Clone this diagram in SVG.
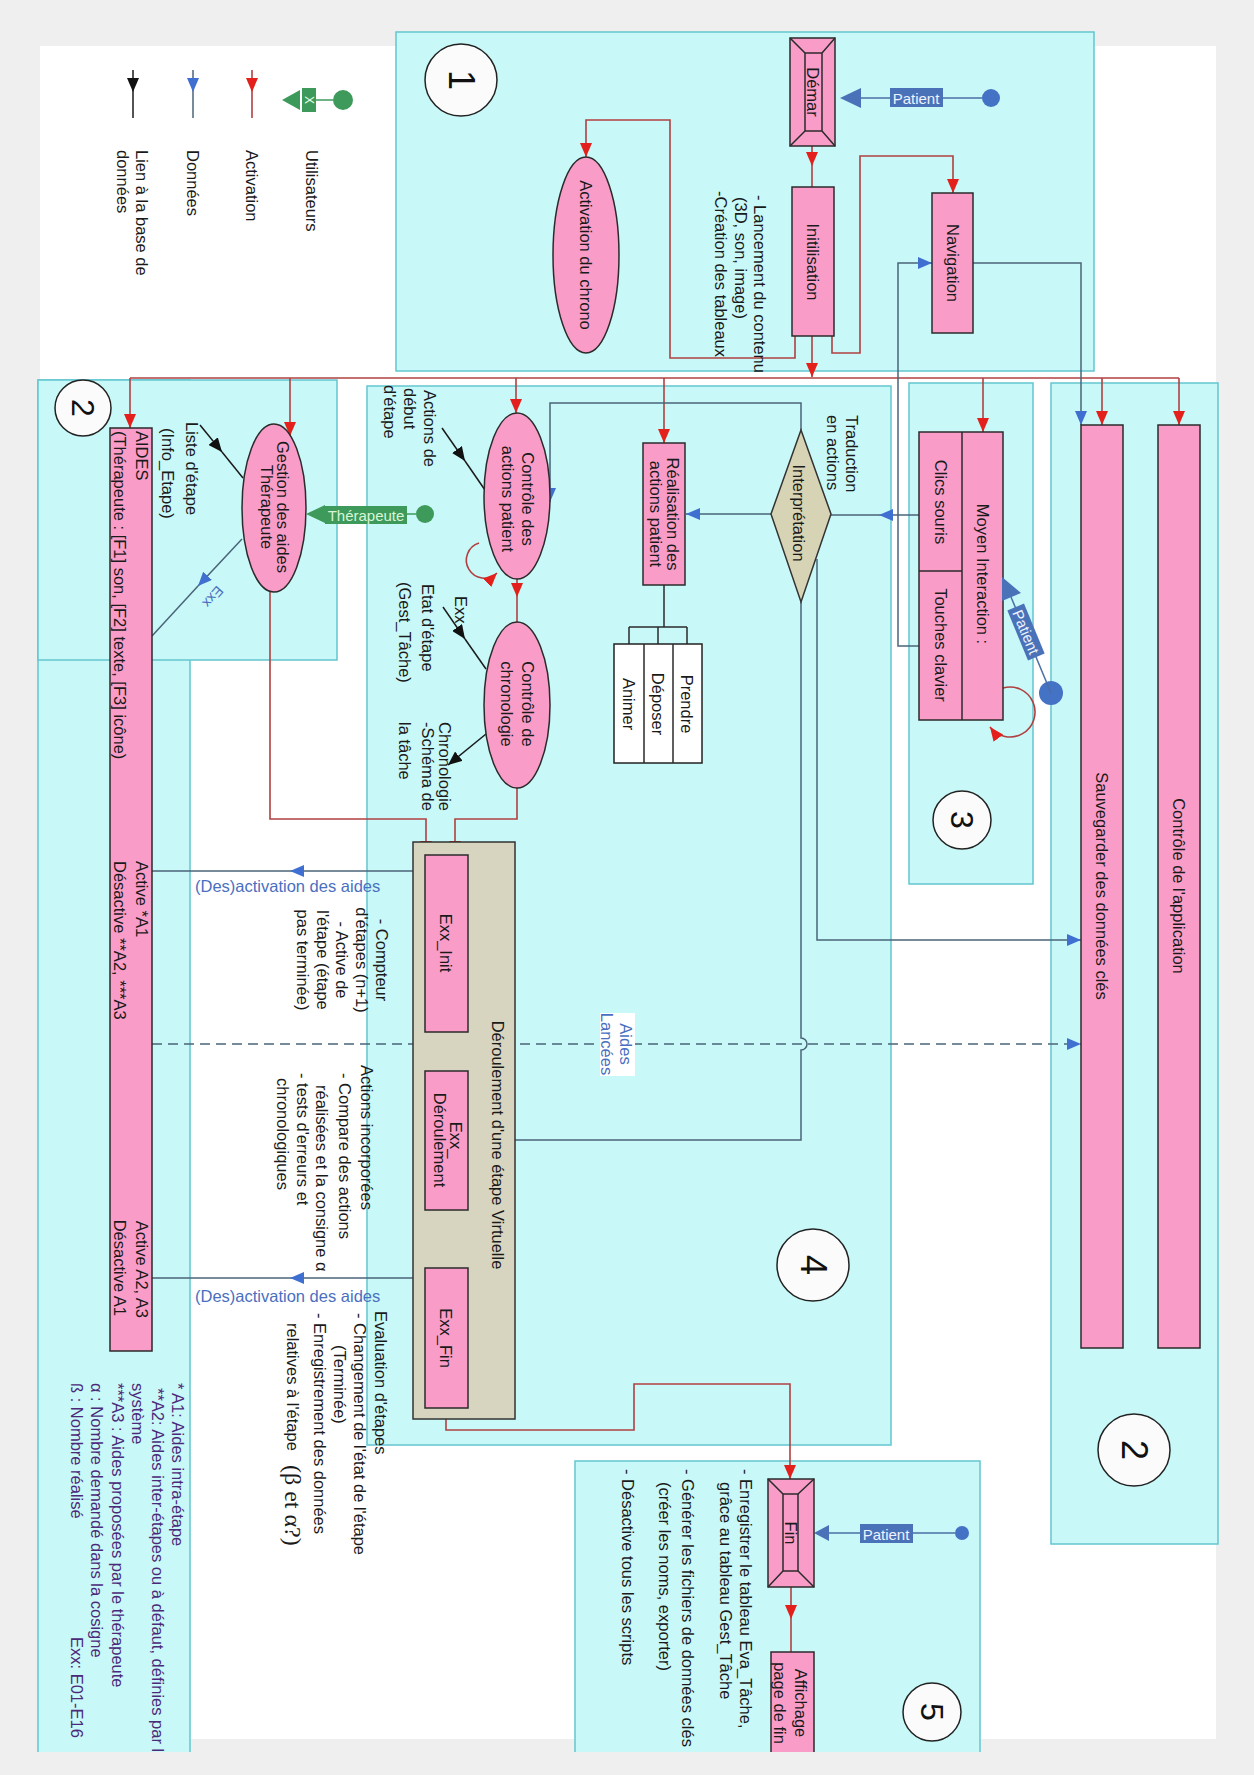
<svg xmlns="http://www.w3.org/2000/svg" width="1254" height="1775" viewBox="0 0 1254 1775">
<style>
.t{font-family:"Liberation Sans",Arial,sans-serif;font-size:16.5px;fill:#1a1a1a;dominant-baseline:central}
.m{text-anchor:middle}
.e{text-anchor:end}
.bl{fill:#4a6fc0}
.pu{fill:#4b2a7a}
.wt{fill:#eef3ff}
.reg{fill:#c9f8f8;stroke:#63c6cf;stroke-width:1.5}
.pk{fill:#f99dc8;stroke:#2b2b2b;stroke-width:1.5}
.kh{fill:#d7d4bf;stroke:#333;stroke-width:1.5}
.wb{fill:#fff;stroke:#222;stroke-width:1.5}
.nc{fill:#fbfbfb;stroke:#222;stroke-width:1.5}
.num{font-family:"Liberation Sans",Arial,sans-serif;font-size:36px;fill:#111;text-anchor:middle;dominant-baseline:central}
.cr{fill:none;stroke:#b04040;stroke-width:1.6}
.cb{fill:none;stroke:#4a6478;stroke-width:1.5}
.ck{fill:none;stroke:#1a1a1a;stroke-width:1.5}
.dash{stroke-dasharray:10 6}
.ln{stroke:#2b2b2b;stroke-width:1.5;fill:none}
</style>
<defs>
<marker id="aR" viewBox="0 0 14 12" refX="14" refY="6" markerWidth="14" markerHeight="12" markerUnits="userSpaceOnUse" orient="auto"><path d="M0,0 L14,6 L0,12 z" fill="#e3201b"/></marker>
<marker id="aB" viewBox="0 0 14 12" refX="14" refY="6" markerWidth="14" markerHeight="12" markerUnits="userSpaceOnUse" orient="auto"><path d="M0,0 L14,6 L0,12 z" fill="#3e6fd1"/></marker>
<marker id="aK" viewBox="0 0 14 12" refX="14" refY="6" markerWidth="14" markerHeight="12" markerUnits="userSpaceOnUse" orient="auto"><path d="M0,0 L14,6 L0,12 z" fill="#111"/></marker>
</defs>

<rect width="1254" height="1775" fill="#efefef"/>
<rect x="40" y="46" width="1176" height="1693" fill="#ffffff"/>

<g id="regions">
<rect class="reg" x="396" y="32" width="698" height="339"/>
<path class="reg" d="M38,1752 V380 H190 V1752"/>
<rect class="reg" x="38" y="380" width="299" height="280"/>
<rect class="reg" x="367" y="386" width="524" height="1059"/>
<rect class="reg" x="909" y="383" width="124" height="501"/>
<rect class="reg" x="1051" y="383" width="167" height="1161"/>
<path class="reg" d="M575,1752 V1461 H980 V1752"/>
</g>

<g id="numbers">
<circle class="nc" cx="461" cy="80" r="36"/><text class="num" transform="translate(461,80) rotate(90)">1</text>
<circle class="nc" cx="83" cy="408" r="28"/><text class="num" style="font-size:32px" transform="translate(83,408) rotate(90)">2</text>
<circle class="nc" cx="1134" cy="1450" r="36"/><text class="num" transform="translate(1134,1450) rotate(90)">2</text>
<circle class="nc" cx="962" cy="820" r="29"/><text class="num" style="font-size:32px" transform="translate(962,820) rotate(90)">3</text>
<circle class="nc" cx="813" cy="1265" r="36"/><text class="num" transform="translate(813,1265) rotate(90)">4</text>
<circle class="nc" cx="932" cy="1712" r="29"/><text class="num" style="font-size:32px" transform="translate(932,1712) rotate(90)">5</text>
</g>

<g id="legend">
<path d="M282,100 L300,90 L300,110 z" fill="#3d9a5a"/>
<rect x="302" y="88" width="14" height="24" fill="#3d9a5a"/>
<text class="t m" style="font-size:12px;fill:#e8ffe8" transform="translate(309,100) rotate(90)">X</text>
<line x1="316" y1="100" x2="333" y2="100" stroke="#3d9a5a" stroke-width="1.5"/>
<circle cx="343" cy="100" r="10" fill="#3d9a5a"/>
<path class="cr" d="M252,70 V92" marker-end="url(#aR)"/><path class="cr" d="M252,92 V118"/>
<path class="cb" d="M193,70 V92" marker-end="url(#aB)"/><path class="cb" d="M193,92 V118"/>
<path class="ck" d="M133,70 V92" marker-end="url(#aK)"/><path class="ck" d="M133,92 V118"/>
<text class="t" transform="translate(312,150) rotate(90)">Utilisateurs</text>
<text class="t" transform="translate(252,150) rotate(90)">Activation</text>
<text class="t" transform="translate(193,150) rotate(90)">Données</text>
<text class="t" transform="translate(142,150) rotate(90)"><tspan x="0" y="0">Lien à la base de</tspan><tspan x="0" y="19.5">données</tspan></text>
</g>

<g id="connectors">
<!-- activation (red) -->
<path class="cr" d="M812,146 V166" marker-end="url(#aR)"/><path class="cr" d="M812,166 V187"/>
<path class="cr" d="M795,336 V358 H670 V120 H586 V157" marker-end="url(#aR)"/>
<path class="cr" d="M832,336 V353 H860 V156 H953 V193" marker-end="url(#aR)"/>
<path class="cr" d="M812,336 V377" marker-end="url(#aR)"/>
<path class="cr" d="M130,378 H1179"/>
<path class="cr" d="M130,378 V428" marker-end="url(#aR)"/>
<path class="cr" d="M290,378 V436" marker-end="url(#aR)"/>
<path class="cr" d="M516,378 V413" marker-end="url(#aR)"/>
<path class="cr" d="M664,378 V443" marker-end="url(#aR)"/>
<path class="cr" d="M983,378 V432" marker-end="url(#aR)"/>
<path class="cr" d="M1102,378 V425" marker-end="url(#aR)"/>
<path class="cr" d="M1179,378 V425" marker-end="url(#aR)"/>
<path class="cr" d="M517,579 V597" marker-end="url(#aR)"/><path class="cr" d="M517,597 V622"/>
<path class="cr" d="M479,543 A18,18 0 1 0 497,573" marker-end="url(#aR)"/>
<path class="cr" d="M1003,688 A25,25 0 1 1 990,727" marker-end="url(#aR)"/>
<path class="cr" d="M517,788 V819 H455 V855" marker-end="url(#aR)"/>
<path class="cr" d="M270,591 V819 H426 V855" marker-end="url(#aR)"/>
<path class="cr" d="M446,1032 V1048" marker-end="url(#aR)"/><path class="cr" d="M446,1048 V1071"/>
<path class="cr" d="M446,1210 V1238" marker-end="url(#aR)"/><path class="cr" d="M446,1238 V1268"/>
<path class="cr" d="M446,1408 V1430 H634 V1384 H790 V1479" marker-end="url(#aR)"/>
<path class="cr" d="M791,1587 V1619" marker-end="url(#aR)"/><path class="cr" d="M791,1619 V1652"/>
<!-- data (blue) -->
<path class="cb" d="M919,646 H898 V263 H932" marker-end="url(#aB)"/>
<path class="cb" d="M973,263 H1081 V425" marker-end="url(#aB)"/>
<path class="cb" d="M919,515 H879" marker-end="url(#aB)"/><path class="cb" d="M879,515 H831"/>
<path class="cb" d="M771,514 H686" marker-end="url(#aB)"/>
<path class="cb" d="M801,430 V403 H550 V502" marker-end="url(#aB)"/>
<path class="cb" d="M801,602 V1038 A6,6 0 0 1 801,1050 V1140 H469" marker-end="url(#aB)"/>
<path class="cb" d="M817,559 V940 H1081" marker-end="url(#aB)"/>
<path class="cb dash" d="M152,1044 H1081" marker-end="url(#aB)"/>
<path class="cb" d="M425,871 H290" marker-end="url(#aB)"/><path class="cb" d="M290,871 H152"/>
<path class="cb" d="M425,1278 H290" marker-end="url(#aB)"/><path class="cb" d="M290,1278 H152"/>
<path class="cb" d="M242,539 L198,586" marker-end="url(#aB)"/><path class="cb" d="M198,586 L152,636"/>
<!-- database links (black) -->
<path class="ck" d="M200,425 L222,452" marker-end="url(#aK)"/><path class="ck" d="M222,452 L243,478"/>
<path class="ck" d="M442,428 L465,461" marker-end="url(#aK)"/><path class="ck" d="M465,461 L485,490"/>
<path class="ck" d="M443,607 L465,639" marker-end="url(#aK)"/><path class="ck" d="M465,639 L486,669"/>
<path class="ck" d="M486,734 L448,765" marker-end="url(#aK)"/>
<!-- labels on connectors -->
<text class="t bl" x="195" y="886">(Des)activation des aides</text>
<text class="t bl" x="195" y="1296">(Des)activation des aides</text>
<rect x="600" y="1013" width="35" height="63" fill="#ffffff"/>
<text class="t m bl" transform="translate(626,1044) rotate(90)"><tspan x="0" y="0">Aides</tspan><tspan x="0" y="19">Lancées</tspan></text>
<text class="t m bl" style="font-size:14px" transform="translate(213,597) rotate(131)">Exx</text>
</g>

<g id="actor-patient-start">
<circle cx="991" cy="98" r="9" fill="#4472c4"/>
<line x1="982" y1="98" x2="861" y2="98" stroke="#4a6fa5" stroke-width="1.5"/>
<path d="M840,98 L861,88 L861,108 z" fill="#4a72b8"/>
<rect x="890" y="88" width="53" height="19" fill="#4a72b8"/>
<text class="t m wt" style="font-size:15px" x="916" y="98">Patient</text>
</g>

<g id="node-demarrage">
<rect class="pk" x="790" y="38" width="45" height="108"/>
<rect class="pk" x="805" y="53" width="17" height="78"/>
<path class="ln" d="M790,38 L805,53 M835,38 L822,53 M790,146 L805,131 M835,146 L822,131"/>
<text class="t m" transform="translate(813,92) rotate(90)">Démar</text>
</g>

<g id="node-init">
<rect class="pk" x="792" y="187" width="42" height="149"/>
<text class="t m" transform="translate(813,262) rotate(90)">Initilisation</text>
<text class="t" transform="translate(760,195) rotate(90)"><tspan x="0" y="0">- Lancement du contenu</tspan><tspan x="2" y="19.5">(3D, son, image)</tspan><tspan x="-4" y="39">-Création des tableaux</tspan></text>
</g>

<g id="node-chrono">
<ellipse class="pk" cx="586" cy="255" rx="33" ry="98"/>
<text class="t m" transform="translate(586,255) rotate(90)">Activation du chrono</text>
</g>

<g id="node-navigation">
<rect class="pk" x="932" y="193" width="41" height="140"/>
<text class="t m" transform="translate(953,263) rotate(90)">Navigation</text>
</g>

<g id="node-moyen">
<rect class="pk" x="919" y="432" width="84" height="288"/>
<path class="ln" d="M962,432 V720 M919,571 H962"/>
<text class="t m" transform="translate(983,574) rotate(90)">Moyen Interaction :</text>
<text class="t m" transform="translate(941,502) rotate(90)">Clics souris</text>
<text class="t m" transform="translate(941,645) rotate(90)">Touches clavier</text>
</g>

<g id="actor-patient-moyen">
<circle cx="1051" cy="693" r="12" fill="#4472c4"/>
<line x1="1051" y1="693" x2="1011" y2="597" stroke="#4a6fa5" stroke-width="1.5"/>
<path d="M1002,577 L1021,593 L1002,601 z" fill="#4a72b8"/>
<g transform="translate(1026,632) rotate(67.5)">
<rect x="-27" y="-9" width="54" height="18" fill="#4a72b8"/>
<text class="t m wt" style="font-size:15px" x="0" y="0">Patient</text>
</g>
</g>

<g id="node-sauvegarder">
<rect class="pk" x="1081" y="425" width="42" height="923"/>
<text class="t m" transform="translate(1102,886) rotate(90)">Sauvegarder des données clés</text>
</g>

<g id="node-controle-app">
<rect class="pk" x="1158" y="425" width="42" height="923"/>
<text class="t m" transform="translate(1179,886) rotate(90)">Contrôle de l'application</text>
</g>

<g id="node-interpretation">
<path d="M801,430 L831,514 L801,602 L771,514 z" fill="#d7d3b5" stroke="#333" stroke-width="1.5"/>
<text class="t m" transform="translate(799,513) rotate(90)">Interprétation</text>
<text class="t" transform="translate(852,415) rotate(90)"><tspan x="0" y="0">Traduction</tspan><tspan x="0" y="19">en actions</tspan></text>
</g>

<g id="node-realisation">
<rect class="pk" x="643" y="443" width="42" height="142"/>
<text class="t m" transform="translate(673,514) rotate(90)"><tspan x="0" y="0">Réalisation des</tspan><tspan x="0" y="17">actions patient</tspan></text>
<path class="ln" d="M664,585 V627 M629,627 H687 M629,627 V644 M658,627 V644 M687,627 V644"/>
<rect class="wb" x="614" y="644" width="88" height="119"/>
<path class="ln" d="M644,644 V763 M673,644 V763"/>
<text class="t m" transform="translate(687,704) rotate(90)">Prendre</text>
<text class="t m" transform="translate(658,704) rotate(90)">Déposer</text>
<text class="t m" transform="translate(629,704) rotate(90)">Animer</text>
</g>

<g id="node-controle-actions">
<ellipse class="pk" cx="517" cy="496" rx="33" ry="83"/>
<text class="t m" transform="translate(528,499) rotate(90)"><tspan x="0" y="0">Contrôle des</tspan><tspan x="0" y="20">actions patient</tspan></text>
<text class="t" transform="translate(430,390) rotate(90)"><tspan x="0" y="0">Actions de</tspan><tspan x="-2" y="20">début</tspan><tspan x="-5" y="40">d'étape</tspan></text>
</g>

<g id="node-controle-chrono">
<ellipse class="pk" cx="517" cy="705" rx="33" ry="83"/>
<text class="t m" transform="translate(528,704) rotate(90)"><tspan x="0" y="0">Contrôle de</tspan><tspan x="0" y="21">chronologie</tspan></text>
<text class="t" transform="translate(461,596) rotate(90)">Exx</text>
<text class="t" transform="translate(428,584) rotate(90)"><tspan x="0" y="0">Etat d'étape</tspan><tspan x="-2" y="23">(Gest_Tâche)</tspan></text>
<text class="t" transform="translate(445,722) rotate(90)"><tspan x="0" y="0">Chronologie</tspan><tspan x="0" y="17">-Schéma de</tspan><tspan x="0" y="40">la tâche</tspan></text>
</g>

<g id="node-deroulement-etape">
<rect class="kh" x="413" y="842" width="102" height="577"/>
<text class="t m" transform="translate(498,1145) rotate(90)">Déroulement d'une étape Virtuelle</text>
</g>

<g id="node-exx-init">
<rect class="pk" x="425" y="855" width="43" height="177"/>
<text class="t m" transform="translate(446,943) rotate(90)">Exx_Init</text>
<text class="t m" transform="translate(382,960) rotate(90)"><tspan x="0" y="0">- Compteur</tspan><tspan x="0" y="19.8">d'étapes (n+1)</tspan><tspan x="0" y="39.6">- Active de</tspan><tspan x="0" y="59.4">l'étape (étape</tspan><tspan x="0" y="79.2">pas terminée)</tspan></text>
</g>

<g id="node-exx-deroulement">
<rect class="pk" x="425" y="1071" width="43" height="139"/>
<text class="t m" transform="translate(456,1140) rotate(90)"><tspan x="0" y="0">Exx_</tspan><tspan x="0" y="16">Déroulement</tspan></text>
<text class="t" transform="translate(367,1065) rotate(90)"><tspan x="0" y="0">Actions incorporées</tspan><tspan x="8" y="22">- Compare des actions</tspan><tspan x="20" y="45">réalisées et la consigne α</tspan><tspan x="8" y="64">- tests d'erreurs et</tspan><tspan x="13" y="84">chronologiques</tspan></text>
</g>

<g id="node-exx-fin">
<rect class="pk" x="425" y="1268" width="43" height="140"/>
<text class="t m" transform="translate(446,1338) rotate(90)">Exx_Fin</text>
<text class="t" transform="translate(381,1311) rotate(90)"><tspan x="0" y="0">Evaluation d'étapes</tspan><tspan x="2" y="21">- Changement de l'état de l'étape</tspan><tspan x="34" y="41">(Terminée)</tspan><tspan x="2" y="61">- Enregistrement des données</tspan><tspan x="12" y="88">relatives à l'étape </tspan><tspan x="154" y="88" style="font-family:'Liberation Serif',serif;font-size:24px">(β et α?)</tspan></text>
</g>

<g id="node-gestion-aides">
<ellipse class="pk" cx="274" cy="508" rx="32" ry="84"/>
<text class="t m" transform="translate(283,507) rotate(90)"><tspan x="0" y="0">Gestion des aides</tspan><tspan x="0" y="16">Thérapeute</tspan></text>
<text class="t" transform="translate(192,422) rotate(90)"><tspan x="0" y="0">Liste d'étape</tspan><tspan x="6" y="24">(Info_Etape)</tspan></text>
</g>

<g id="actor-therapeute">
<circle cx="425" cy="514" r="9" fill="#3d9a5a"/>
<line x1="407" y1="514" x2="416" y2="514" stroke="#3d9a5a" stroke-width="1.5"/>
<path d="M306,514 L325,505 L325,523 z" fill="#3d9a5a"/>
<rect x="325" y="506" width="82" height="18" fill="#3d9a5a"/>
<text class="t m" style="font-size:15px;fill:#d8f5d8" x="366" y="515">Thérapeute</text>
</g>

<g id="node-aides">
<rect class="pk" x="110" y="428" width="42" height="923"/>
<text class="t" transform="translate(142,431) rotate(90)"><tspan x="0" y="0">AIDES</tspan><tspan x="0" y="22">(Thérapeute : [F1] son, [F2] texte, [F3] icône)</tspan></text>
<text class="t" transform="translate(142,861) rotate(90)"><tspan x="0" y="0">Active *A1</tspan><tspan x="0" y="22">Désactive **A2, ***A3</tspan></text>
<text class="t e" transform="translate(142,1318) rotate(90)"><tspan x="0" y="0">Active A2, A3</tspan><tspan x="-2" y="22">Désactive A1</tspan></text>
</g>

<g id="footnotes">
<text class="t pu" transform="translate(178,1383) rotate(90)"><tspan x="0" y="0">* A1: Aides intra-étape</tspan><tspan x="5" y="20.5">**A2: Aides inter-étapes ou à défaut, définies par l</tspan><tspan x="0" y="40">système</tspan><tspan x="0" y="60">***A3 : Aides proposées par le thérapeute</tspan><tspan x="0" y="81">α : Nombre demandé dans la cosigne</tspan><tspan x="0" y="101">ß : Nombre réalisé</tspan></text>
<text class="t pu" transform="translate(77,1637) rotate(90)">Exx: E01-E16</text>
</g>

<g id="actor-patient-fin">
<circle cx="962" cy="1533" r="7" fill="#4472c4"/>
<line x1="955" y1="1533" x2="828" y2="1533" stroke="#4a6fa5" stroke-width="1.5"/>
<path d="M814,1533 L829,1525 L829,1541 z" fill="#4a72b8"/>
<rect x="860" y="1524" width="53" height="19" fill="#4a72b8"/>
<text class="t m wt" style="font-size:15px" x="886" y="1534">Patient</text>
</g>

<g id="node-fin">
<rect class="pk" x="768" y="1479" width="46" height="108"/>
<rect class="pk" x="783" y="1494" width="15" height="77"/>
<path class="ln" d="M768,1479 L783,1494 M814,1479 L798,1494 M768,1587 L783,1571 M814,1587 L798,1571"/>
<text class="t m" transform="translate(791,1533) rotate(90)">Fin</text>
<text class="t" transform="translate(746,1469) rotate(90)"><tspan x="0" y="0">- Enregistrer le tableau Eva_Tâche,</tspan><tspan x="13" y="20">grâce au tableau Gest_Tâche</tspan><tspan x="0" y="58">- Générer les fichiers de données clés</tspan><tspan x="13" y="81">(créer les noms, exporter)</tspan><tspan x="0" y="118">- Désactive tous les scripts</tspan></text>
</g>

<g id="node-affichage">
<rect x="771" y="1652" width="43" height="100" fill="#f99dc8"/>
<path class="ln" d="M771,1752 V1652 H814 V1752"/>
<text class="t m" transform="translate(801,1703) rotate(90)"><tspan x="0" y="0">Affichage</tspan><tspan x="0" y="21">page de fin</tspan></text>
</g>
</svg>
